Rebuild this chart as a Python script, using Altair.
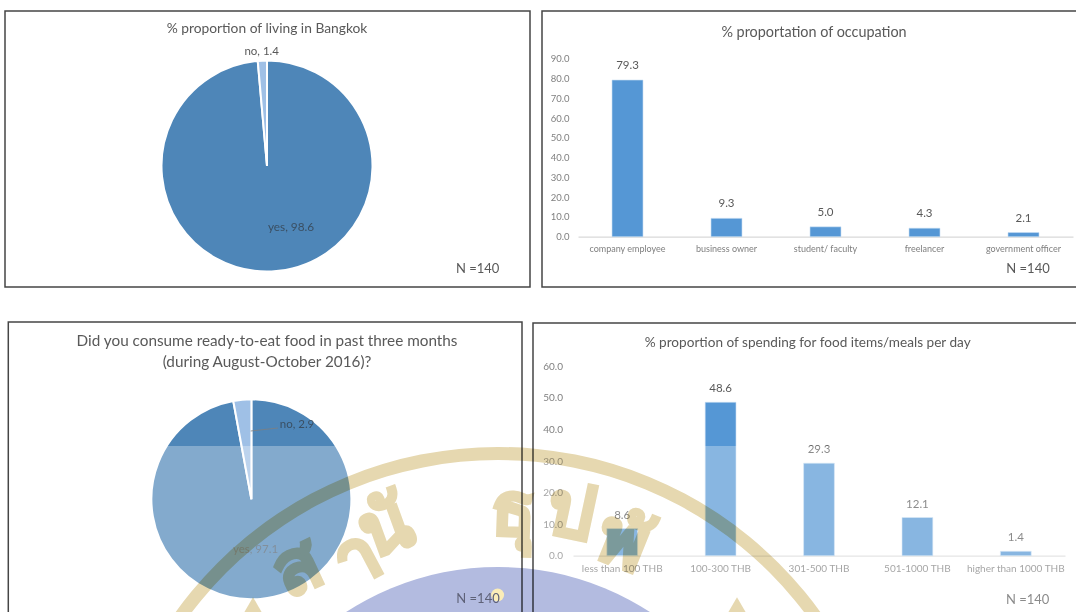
import altair as alt
import pandas as pd

FONT = "Lato"
TEXT = "#595959"
LIGHT = "#7f7f7f"

# survey results
living_names = ["yes", "no"]
living_values = [98.6, 1.4]
consume_names = ["yes", "no"]
consume_values = [97.1, 2.9]
occupation_names = ["company employee", "business owner", "student/ faculty", "freelancer", "government officer"]
occupation_values = [79.3, 9.3, 5.0, 4.3, 2.1]
occupation_ticks = [0, 10, 20, 30, 40, 50, 60, 70, 80, 90]
spending_names = ["less than 100 THB", "100-300 THB", "301-500 THB", "501-1000 THB", "higher than 1000 THB"]
spending_values = [8.6, 48.6, 29.3, 12.1, 1.4]
spending_ticks = [0, 10, 20, 30, 40, 50, 60]

# seal lettering that sits over the lower half of the page
seal_letters = ["ส", "า", "นั", "ธุ", "ป", "พั"]
seal_x = [298, 358, 386, 513, 571, 622]
seal_y = [570, 560, 530, 513, 514, 544]
seal_angle = [335, 332, 340, 2, 12, 22]
seal_tip_x = [253, 737]
seal_tip_y = [606, 606]


def label(text, x, y, size, color=TEXT):
    return alt.Chart(pd.DataFrame({"t": [text]})).mark_text(
        font=FONT, fontSize=size, color=color, align="center", baseline="middle"
    ).encode(text="t:N", x=alt.value(x), y=alt.value(y))


def frame(x0, y0, x1, y1):
    return alt.Chart(pd.DataFrame({"a": [0]})).mark_rect(
        fillOpacity=0, stroke="#454545", strokeWidth=1.5
    ).encode(x=alt.value(x0), x2=alt.value(x1), y=alt.value(y0), y2=alt.value(y1))


def pie(names, values, cx, cy, radius):
    df = pd.DataFrame({"name": names, "value": values, "idx": range(len(names))})
    return alt.Chart(df).mark_arc(radius=radius, stroke="white", strokeWidth=2).encode(
        theta=alt.Theta("value:Q", stack=True),
        order=alt.Order("idx:Q"),
        color=alt.Color(
            "name:N",
            scale=alt.Scale(domain=names, range=["#4E86B8", "#9FC0E6"]),
            legend=None,
        ),
        x=alt.value(cx),
        y=alt.value(cy),
    )


def bar_panel(names, values, ticks, x_range, y_range, bar_dy, tick_right, tick_size, cat_size, cat_pad, base_y, label_size):
    df = pd.DataFrame({"name": names, "value": values})
    x_scale = alt.Scale(type="band", domain=names, range=x_range, paddingInner=0.687, paddingOuter=0.3435)
    y_scale = alt.Scale(domain=[ticks[0], ticks[-1]], range=y_range, nice=False)
    bars = alt.Chart(df).mark_bar(color="#5597D5", stroke="#C9DFF3", strokeWidth=0.6).encode(
        x=alt.X(
            "name:N",
            scale=x_scale,
            sort=names,
            title=None,
            axis=alt.Axis(
                orient="bottom",
                labelAngle=0, labelFont=FONT, labelFontSize=cat_size, labelColor=LIGHT,
                domainColor="#D9D9D9", domainWidth=1.2, ticks=False, grid=False,
                labelPadding=cat_pad, offset=base_y - 612, labelLimit=0,
            ),
        ),
        y=alt.Y(
            "value:Q",
            scale=y_scale,
            title=None,
            axis=alt.Axis(
                orient="left",
                values=ticks, format=".1f", labelFont=FONT, labelFontSize=tick_size,
                labelColor=LIGHT, domain=False, ticks=False, grid=False,
                offset=-tick_right, labelPadding=0,
            ),
        ),
    )
    text = alt.Chart(df).mark_text(
        font=FONT, fontSize=label_size, color=TEXT, baseline="middle", dy=bar_dy
    ).encode(
        x=alt.X("name:N", scale=x_scale, sort=names, axis=None),
        y=alt.Y("value:Q", scale=y_scale, axis=None),
        text=alt.Text("value:Q", format=".1f"),
    )
    return [bars, text]


seal_df = pd.DataFrame({"t": seal_letters, "px": seal_x, "py": seal_y, "a": seal_angle})
tip_df = pd.DataFrame({"px": seal_tip_x, "py": seal_tip_y})
page_x = alt.Scale(domain=[0, 1076], range=[0, 1076])
page_y = alt.Scale(domain=[0, 612], range=[0, 612])

layers = [
    label("% proportion of living in Bangkok", 267, 28.7, 13.8),
    pie(living_names, living_values, 267, 166, 105.5),
    label("no, 1.4", 261.7, 51.7, 11.5),
    label("yes, 98.6", 291, 226.7, 11.8, "#3a4f63"),
    label("N =140", 477.6, 269.3, 13),
    label("% proportation of occupation", 814, 33.3, 14.4),
    *bar_panel(occupation_names, occupation_values, occupation_ticks, [578, 1073], [236.7, 58.9], -14, 569, 9.5, 9, 8, 236.7, 11.5),
    label("N =140", 1028, 269, 13),
    label("Did you consume ready-to-eat food in past three months", 267, 341.3, 15.3),
    label("(during August-October 2016)?", 267, 362, 15.3),
    pie(consume_names, consume_values, 251.4, 499.3, 100),
    alt.Chart(pd.DataFrame({"a": [0]})).mark_rule(color="#7f7f7f", strokeWidth=0.8).encode(
        x=alt.value(250.7), x2=alt.value(278), y=alt.value(431), y2=alt.value(428)
    ),
    label("no, 2.9", 297, 425.3, 11.5, "#3a4f63"),
    label("yes, 97.1", 255.5, 550, 11.5, "#4d5f70"),
    label("% proportion of spending for food items/meals per day", 807.7, 342.7, 13.6),
    *bar_panel(spending_names, spending_values, spending_ticks, [573, 1065], [555.7, 366.3], -13, 562.5, 10, 10, 8, 555.7, 11.5),
    label("N =140", 1027.6, 600, 13),
    # white veil across the lower part of the page
    alt.Chart(pd.DataFrame({"a": [0]})).mark_rect(color="white", opacity=0.3).encode(
        x=alt.value(0), x2=alt.value(1076), y=alt.value(446), y2=alt.value(612)
    ),
    frame(5, 11, 530, 287),
    frame(542, 11, 1090, 287),
    frame(8.3, 322, 522, 640),
    frame(533, 323, 1090, 640),
    # seal: outer ring, inner disc and lettering
    alt.Chart(pd.DataFrame({"a": [0]})).mark_arc(
        radius=397, radius2=384, theta=0, theta2=6.2832, color="#E6D8B0", blend="multiply"
    ).encode(x=alt.value(498), y=alt.value(844)),
    alt.Chart(pd.DataFrame({"a": [0]})).mark_arc(
        radius=279, theta=0, theta2=6.2832, color="#B3BBE0", blend="multiply"
    ).encode(x=alt.value(498), y=alt.value(846)),
    alt.Chart(seal_df).mark_text(
        font="Noto Sans", fontSize=74, fontWeight="bold", color="#E6D8B0",
        stroke="#E6D8B0", strokeWidth=3.5, blend="multiply", baseline="middle",
    ).encode(
        text="t:N",
        x=alt.X("px:Q", scale=page_x, axis=None),
        y=alt.Y("py:Q", scale=page_y, axis=None),
        angle=alt.Angle("a:Q", scale=None),
    ),
    alt.Chart(tip_df).mark_point(
        shape="triangle-up", filled=True, color="#E6D8B0", opacity=1, size=420, blend="multiply"
    ).encode(
        x=alt.X("px:Q", scale=page_x, axis=None),
        y=alt.Y("py:Q", scale=page_y, axis=None),
    ),
    # pale dot of the seal, with the count printed across it
    alt.Chart(pd.DataFrame({"a": [0]})).mark_arc(
        radius=6.5, theta=0, theta2=6.2832, color="#FBEDB8"
    ).encode(x=alt.value(497.6), y=alt.value(595)),
    label("N =140", 478, 598.7, 13, "#5f6278"),
]

chart = (
    alt.layer(*layers)
    .resolve_scale(x="independent", y="independent", theta="independent", color="independent", angle="independent")
    .resolve_axis(x="independent", y="independent")
    .properties(
        width=1076, height=612, padding=0,
        autosize=alt.AutoSizeParams(type="none"),
        background="white",
    )
    .configure_view(stroke=None)
)

chart.save("out.html", embed_options={"renderer": "svg", "actions": False})
